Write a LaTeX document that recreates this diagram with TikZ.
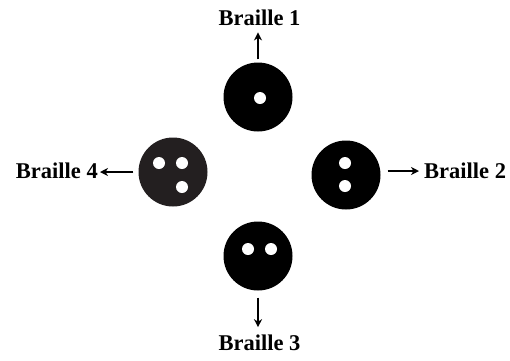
\documentclass[tikz,border=0pt]{standalone}
\usepackage{fontspec}
\setmainfont{Liberation Serif}
\usetikzlibrary{positioning,arrows.meta}
\definecolor{btBlack}{RGB}{0,0,0}
\definecolor{btDark}{RGB}{35,31,32}
\tikzset{
    disc/.style={circle, fill=btBlack, inner sep=0pt, minimum size=69pt},
    hole/.style={circle, fill=white, inner sep=0pt, minimum size=12pt},
    flow/.style={-{Stealth[length=8pt,width=8pt,inset=2.5pt]}, line width=1.4pt, color=btBlack},
    tag/.style={font=\fontsize{22.5}{27}\selectfont\bfseries, inner sep=0pt, text=btBlack}
}
\begin{document}
\begin{tikzpicture}[x=1pt,y=-1pt]
  \useasboundingbox[fill=white] (0,0) rectangle (510,360);

  % buttons
  \node[disc] (c1) at (258,97) {};
  \node[disc] (c2) at (346,175) {};
  \node[disc] (c3) at (258,256) {};
  \node[disc, fill=btDark] (c4) at (173,172) {};

  % holes
  \node[hole] (h1) at (260,98) {};
  \node[hole] (h2a) at (345,163) {};
  \node[hole] (h2b) at (345,186) {};
  \node[hole] (h3a) at (248,249) {};
  \node[hole] (h3b) at (271,249) {};
  \node[hole] (h4a) at (159,163) {};
  \node[hole] (h4b) at (182,163) {};
  \node[hole] (h4c) at (182,187) {};

  % labels
  \node[tag, anchor=base] (b1) at (259.5,25) {Braille 1};
  \node[tag, anchor=base west] (b2) at (424,178) {Braille 2};
  \node[tag, anchor=base] (b3) at (259.5,350) {Braille 3};
  \node[tag, anchor=base east] (b4) at (98,178) {Braille 4};

  % arrows
  \draw[flow, shorten <=3pt, shorten >=7pt] (c1.north) -- (c1.north |- b1.south);
  \draw[flow, shorten <=7pt, shorten >=5pt] ([yshift=4pt]c2.east) -- ([yshift=4pt]c2.east -| b2.west);
  \draw[flow, shorten <=7pt, shorten >=7pt] (c3.south) -- (c3.south |- b3.north);
  \draw[flow, shorten <=5pt, shorten >=2pt] (c4.west) -- (c4.west -| b4.east);
\end{tikzpicture}
\end{document}
